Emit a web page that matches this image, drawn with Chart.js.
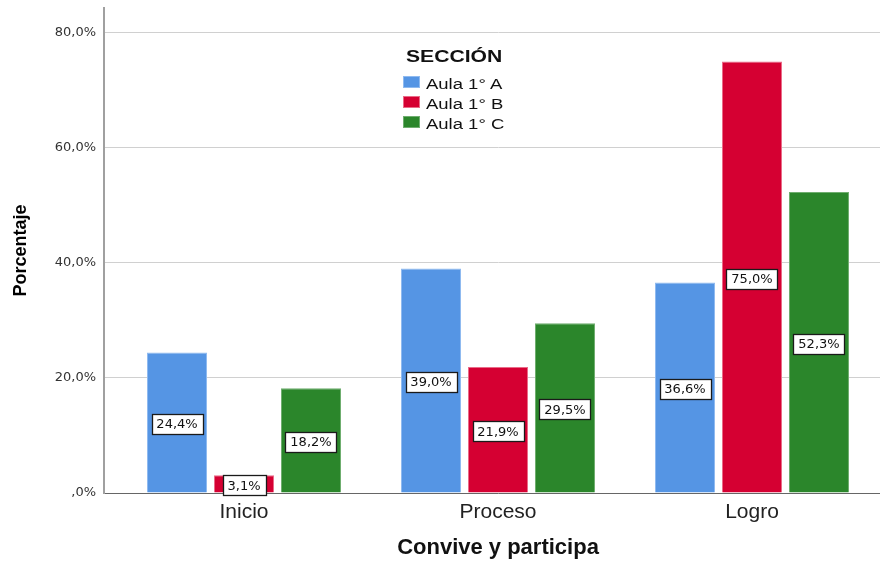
<!DOCTYPE html>
<html><head><meta charset="utf-8">
<script src="https://cdn.jsdelivr.net/npm/chart.js@4"></script>
<style>
html,body{margin:0;padding:0;background:#fff;overflow:hidden;width:880px;height:562px}
#wrap{position:relative;width:892px;height:562px}
#legend{position:absolute;left:0;top:0;width:0;height:0;font-family:"Liberation Sans",Arial,sans-serif;color:#111}
#legend .t{position:absolute;white-space:nowrap;transform-origin:0 0}
#legend .b{position:absolute;width:15px;height:10px;border:1px solid}
</style></head><body>
<div id="wrap"><canvas id="c"></canvas><div id="legend"></div></div>
<script>
const categories = ['Inicio', 'Proceso', 'Logro'];
const seriesNames = ['Aula 1° A', 'Aula 1° B', 'Aula 1° C'];
const aulaA = [24.4, 39.0, 36.6];
const aulaB = [3.1, 21.9, 75.0];
const aulaC = [18.2, 29.5, 52.3];
const yTicks = [0, 20, 40, 60, 80];
const legendTitle = 'SECCIÓN';
const xTitle = 'Convive y participa';
const yTitle = 'Porcentaje';

const fills = ['#5595e4', '#d50032', '#2b862b'];
const edges = ['#8fbaf0', '#ea6b88', '#6fae6f'];

function fmt(v) {
  if (v === 0) return ',0%';
  return v.toFixed(1).replace('.', ',') + '%';
}

const seriesValues = [aulaA, aulaB, aulaC];
const datasets = seriesValues.map((vals, s) => ({
  label: seriesNames[s],
  data: vals.map((v, i) => ({x: i, y: v})),
  backgroundColor: fills[s],
  borderColor: edges[s],
  borderWidth: 1,
  categoryPercentage: 0.7913,
  barPercentage: 0.8955
}));

const boxLabels = {
  id: 'boxLabels',
  afterDatasetsDraw(chart) {
    const ctx = chart.ctx;
    ctx.save();
    ctx.font = '13px "DejaVu Sans"';
    ctx.textAlign = 'center';
    ctx.textBaseline = 'middle';
    chart.data.datasets.forEach((ds, di) => {
      const meta = chart.getDatasetMeta(di);
      meta.data.forEach((el, i) => {
        const t = fmt(ds.data[i].y);
        const w = Math.round(ctx.measureText(t).width + 10);
        const h = 20;
        const cx = el.x, cy = (el.y + el.base) / 2 + 1.5;
        const x0 = Math.round(cx - w / 2) + 0.5, y0 = Math.round(cy - h / 2) + 0.5;
        ctx.fillStyle = '#fff';
        ctx.fillRect(x0, y0, w, h);
        ctx.strokeStyle = '#1a1a1a';
        ctx.lineWidth = 1.3;
        ctx.strokeRect(x0, y0, w, h);
        ctx.fillStyle = '#111';
        ctx.fillText(t, cx, cy + 1);
      });
    });
    ctx.restore();
  }
};

new Chart(document.getElementById('c'), {
  type: 'bar',
  data: {datasets},
  options: {
    responsive: true,
    maintainAspectRatio: false,
    animation: false,
    layout: {padding: {top: 0, left: 0, right: 0, bottom: 0}},
    plugins: {legend: {display: false}, tooltip: {enabled: false}},
    scales: {
      x: {
        type: 'linear',
        offset: false,
        min: -0.5512, max: 2.5512,
        afterBuildTicks: s => { s.ticks = categories.map((c, i) => ({value: i})); },
        afterFit: s => { s.height = 69; s.paddingLeft = 0; s.paddingRight = 0; },
        ticks: {
          padding: 7, color: '#222', autoSkip: false, maxRotation: 0,
          font: {family: '"Liberation Sans", Arial, sans-serif', size: 21},
          callback: v => categories[v]
        },
        grid: {display: false, drawTicks: false, offset: false},
        border: {display: true, color: '#666', width: 1},
        title: {
          display: true, text: xTitle, color: '#111',
          font: {family: '"Liberation Sans", Arial, sans-serif', size: 22, weight: 'bold'},
          padding: {top: 0, bottom: 1}
        }
      },
      y: {
        min: 0, max: 84.3,
        afterBuildTicks: s => { s.ticks = yTicks.map(v => ({value: v})); },
        afterFit: s => { s.width = 104; s.paddingTop = 8; s.paddingBottom = 0; },
        ticks: {
          padding: 8, color: '#333',
          font: {family: '"DejaVu Sans", sans-serif', size: 13},
          callback: v => fmt(v)
        },
        grid: {color: '#d0d0d0', lineWidth: 1, drawTicks: false},
        border: {display: true, color: '#a0a0a0', width: 2},
        title: {
          display: true, text: yTitle, color: '#000',
          font: {family: '"Liberation Sans", Arial, sans-serif', size: 18, weight: 'bold'},
          padding: {top: 10, bottom: 0}
        }
      }
    }
  },
  plugins: [boxLabels]
});

// HTML legend built from the datasets
const lg = document.getElementById('legend');
const tt = document.createElement('div');
tt.className = 't';
tt.textContent = legendTitle;
tt.style.cssText = 'left:406px;top:48.7px;font-size:16px;line-height:16px;font-weight:bold;transform:scaleX(1.32)';
lg.appendChild(tt);
datasets.forEach((ds, i) => {
  const b = document.createElement('div');
  b.className = 'b';
  b.style.left = '403px';
  b.style.top = (75.7 + 20 * i) + 'px';
  b.style.background = ds.backgroundColor;
  b.style.borderColor = ds.borderColor;
  lg.appendChild(b);
  const t = document.createElement('div');
  t.className = 't';
  t.textContent = ds.label;
  t.style.cssText = 'left:425.7px;top:' + (77.2 + 20 * i) + 'px;font-size:14px;line-height:14px;transform:scaleX(1.32)';
  lg.appendChild(t);
});
</script>
</body></html>
